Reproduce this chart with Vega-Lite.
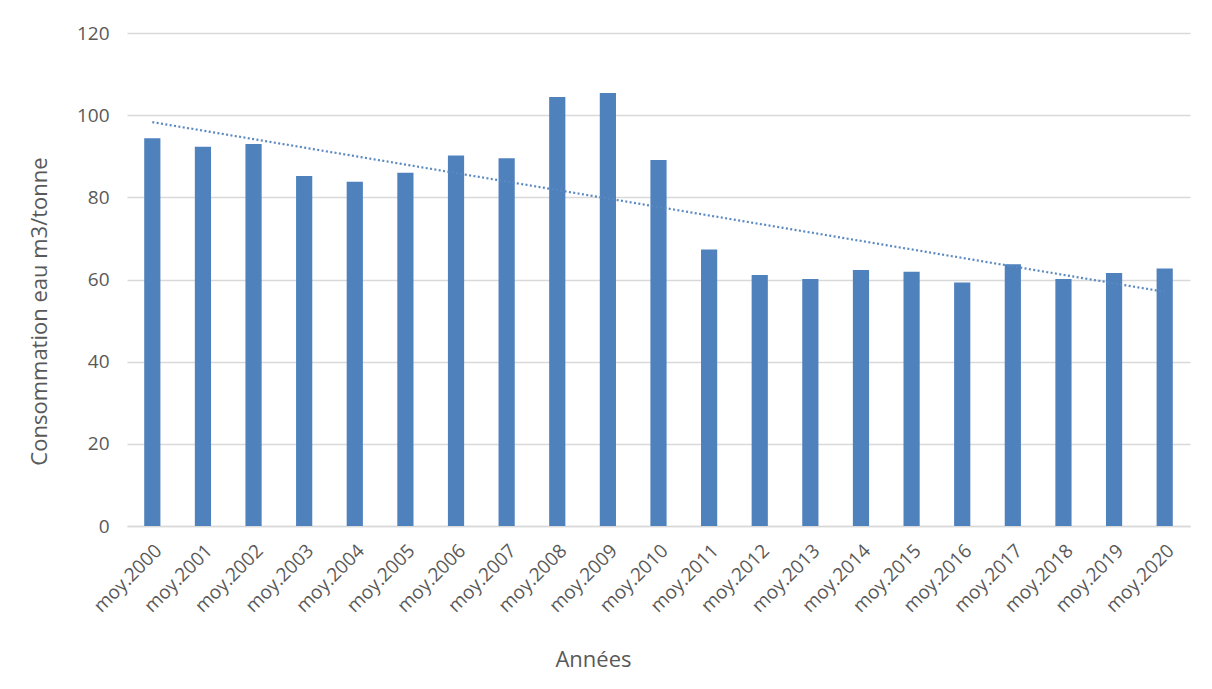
{
  "$schema": "https://vega.github.io/schema/vega-lite/v6.json",
  "autosize": "none",
  "width": 1063,
  "height": 493,
  "padding": {"left": 127, "top": 33, "right": 22, "bottom": 163},
  "background": "white",
  "datasets": {
    "bars": [
      {"annee": "moy.2000", "conso": 94.4},
      {"annee": "moy.2001", "conso": 92.3},
      {"annee": "moy.2002", "conso": 93.0},
      {"annee": "moy.2003", "conso": 85.2},
      {"annee": "moy.2004", "conso": 83.8},
      {"annee": "moy.2005", "conso": 86.0},
      {"annee": "moy.2006", "conso": 90.2},
      {"annee": "moy.2007", "conso": 89.5},
      {"annee": "moy.2008", "conso": 104.4},
      {"annee": "moy.2009", "conso": 105.4},
      {"annee": "moy.2010", "conso": 89.1},
      {"annee": "moy.2011", "conso": 67.3},
      {"annee": "moy.2012", "conso": 61.1},
      {"annee": "moy.2013", "conso": 60.1},
      {"annee": "moy.2014", "conso": 62.3},
      {"annee": "moy.2015", "conso": 61.9},
      {"annee": "moy.2016", "conso": 59.3},
      {"annee": "moy.2017", "conso": 63.7},
      {"annee": "moy.2018", "conso": 60.1},
      {"annee": "moy.2019", "conso": 61.6},
      {"annee": "moy.2020", "conso": 62.7}
    ],
    "trend": [
      {"annee": "moy.2000", "conso": 98.3},
      {"annee": "moy.2020", "conso": 57.0}
    ]
  },
  "config": {
    "view": {"stroke": null},
    "axis": {
      "labelFont": "Open Sans",
      "titleFont": "Open Sans",
      "labelColor": "#595959",
      "titleColor": "#595959",
      "titleFontWeight": "normal",
      "labelFontSize": 19,
      "titleFontSize": 22
    }
  },
  "encoding": {
    "x": {
      "field": "annee",
      "type": "nominal",
      "sort": null,
      "scale": {"paddingInner": 0.68, "paddingOuter": 0.34},
      "axis": {
        "title": "Années",
        "labelAngle": -45,
        "labelAlign": "right",
        "labelBaseline": "top",
        "labelPadding": 15,
        "ticks": false,
        "domainColor": "#d9d9d9",
        "domainWidth": 1.5,
        "titlePadding": 34,
        "titleX": 466,
        "titleAnchor": null
      }
    },
    "y": {
      "field": "conso",
      "type": "quantitative",
      "scale": {"domain": [0, 120], "nice": false},
      "axis": {
        "title": "Consommation eau m3/tonne",
        "values": [0, 20, 40, 60, 80, 100, 120],
        "domain": false,
        "ticks": false,
        "gridColor": "#d9d9d9",
        "gridWidth": 1.3,
        "labelPadding": 18,
        "titlePadding": 25,
        "titleY": 278
      }
    }
  },
  "layer": [
    {
      "data": {"name": "bars"},
      "mark": {"type": "bar", "color": "#4F81BD"}
    },
    {
      "data": {"name": "trend"},
      "mark": {"type": "line", "color": "#5A89C2", "strokeWidth": 2.2, "strokeDash": [2, 2.4]}
    }
  ]
}
